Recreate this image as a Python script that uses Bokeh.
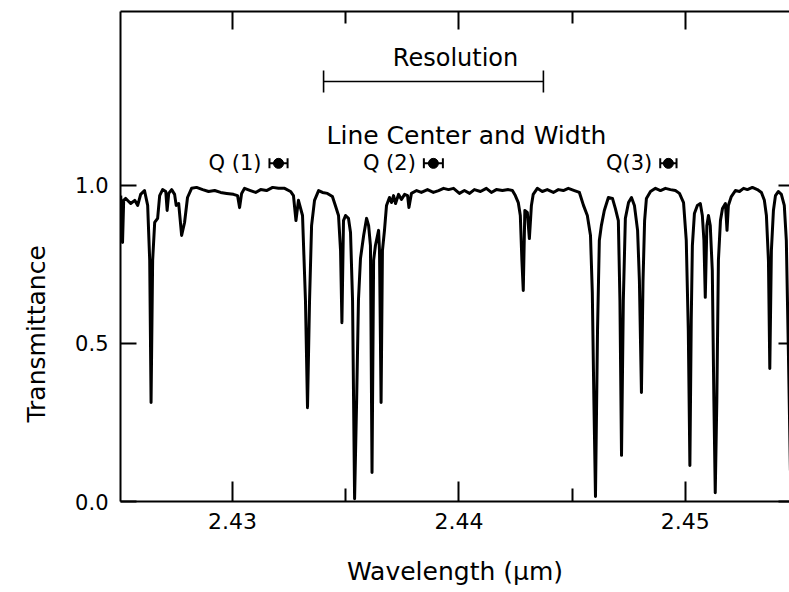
from bokeh.plotting import figure
from bokeh.models import (ColumnDataSource, Whisker, TeeHead, Title, FixedTicker,
                          LinearAxis, Range1d, PrintfTickFormatter)
from bokeh.core.properties import value
from bokeh.embed import file_html
from bokeh.resources import INLINE

# ---------------- data ----------------
wavelength = [
    2.42506, 2.42510, 2.42514, 2.42519, 2.42528, 2.42550, 2.42568, 2.42581, 2.42594, 2.42611,
    2.42625, 2.42634, 2.42640, 2.42647, 2.42656, 2.42669, 2.42678, 2.42691, 2.42705, 2.42711,
    2.42718, 2.42731, 2.42744, 2.42751, 2.42762, 2.42775, 2.42788, 2.42801, 2.42819, 2.42841,
    2.42868, 2.42894, 2.42921, 2.42947, 2.42974, 2.43004, 2.43022, 2.43031, 2.43040, 2.43053,
    2.43079, 2.43102, 2.43124, 2.43150, 2.43177, 2.43203, 2.43230, 2.43256, 2.43269, 2.43280,
    2.43291, 2.43309, 2.43322, 2.43331, 2.43340, 2.43349, 2.43362, 2.43380, 2.43397, 2.43419,
    2.43441, 2.43454, 2.43468, 2.43477, 2.43483, 2.43490, 2.43499, 2.43512, 2.43521, 2.43530,
    2.43539, 2.43548, 2.43556, 2.43565, 2.43579, 2.43592, 2.43601, 2.43609, 2.43616, 2.43623,
    2.43631, 2.43645, 2.43649, 2.43656, 2.43662, 2.43671, 2.43680, 2.43693, 2.43702, 2.43711,
    2.43720, 2.43733, 2.43746, 2.43760, 2.43773, 2.43779, 2.43790, 2.43813, 2.43834, 2.43861,
    2.43887, 2.43910, 2.43932, 2.43954, 2.43976, 2.44002, 2.44024, 2.44047, 2.44068, 2.44095,
    2.44121, 2.44143, 2.44165, 2.44192, 2.44218, 2.44236, 2.44249, 2.44262, 2.44271, 2.44278,
    2.44284, 2.44291, 2.44302, 2.44311, 2.44320, 2.44328, 2.44346, 2.44368, 2.44390, 2.44417,
    2.44439, 2.44461, 2.44483, 2.44510, 2.44532, 2.44550, 2.44567, 2.44581, 2.44589, 2.44596,
    2.44603, 2.44612, 2.44620, 2.44629, 2.44642, 2.44660, 2.44678, 2.44691, 2.44704, 2.44711,
    2.44718, 2.44726, 2.44735, 2.44749, 2.44762, 2.44775, 2.44789, 2.44797, 2.44806, 2.44813,
    2.44820, 2.44828, 2.44846, 2.44868, 2.44890, 2.44912, 2.44934, 2.44956, 2.44974, 2.44992,
    2.45004, 2.45013, 2.45020, 2.45026, 2.45031, 2.45040, 2.45053, 2.45066, 2.45075, 2.45082,
    2.45088, 2.45095, 2.45102, 2.45110, 2.45119, 2.45126, 2.45132, 2.45139, 2.45146, 2.45155,
    2.45164, 2.45177, 2.45184, 2.45190, 2.45203, 2.45221, 2.45239, 2.45257, 2.45274, 2.45296,
    2.45318, 2.45336, 2.45349, 2.45358, 2.45367, 2.45373, 2.45380, 2.45389, 2.45398, 2.45411,
    2.45424, 2.45437, 2.45446, 2.45455, 2.45464,
]
transmittance = [
    0.968, 0.905, 0.820, 0.953, 0.959, 0.943, 0.953, 0.937, 0.972, 0.984,
    0.937, 0.763, 0.313, 0.763, 0.883, 0.896, 0.968, 0.987, 0.981, 0.921,
    0.975, 0.987, 0.972, 0.937, 0.943, 0.842, 0.883, 0.962, 0.991, 0.994,
    0.987, 0.981, 0.984, 0.978, 0.975, 0.972, 0.968, 0.930, 0.975, 0.991,
    0.984, 0.978, 0.987, 0.984, 0.994, 0.991, 0.991, 0.981, 0.968, 0.889,
    0.953, 0.905, 0.636, 0.297, 0.636, 0.873, 0.953, 0.984, 0.978, 0.975,
    0.965, 0.937, 0.905, 0.794, 0.566, 0.889, 0.905, 0.896, 0.851, 0.636,
    0.009, 0.320, 0.636, 0.769, 0.842, 0.896, 0.873, 0.810, 0.092, 0.763,
    0.810, 0.858, 0.794, 0.313, 0.794, 0.858, 0.937, 0.962, 0.946, 0.968,
    0.943, 0.972, 0.956, 0.972, 0.968, 0.930, 0.975, 0.984, 0.978, 0.987,
    0.978, 0.984, 0.991, 0.987, 0.991, 0.975, 0.984, 0.975, 0.987, 0.981,
    0.991, 0.978, 0.987, 0.984, 0.987, 0.984, 0.968, 0.946, 0.905, 0.763,
    0.668, 0.921, 0.915, 0.832, 0.937, 0.972, 0.991, 0.981, 0.987, 0.978,
    0.987, 0.984, 0.991, 0.984, 0.978, 0.937, 0.905, 0.842, 0.661, 0.320,
    0.016, 0.541, 0.826, 0.873, 0.921, 0.962, 0.959, 0.927, 0.889, 0.636,
    0.146, 0.636, 0.896, 0.946, 0.962, 0.937, 0.858, 0.699, 0.345, 0.699,
    0.889, 0.959, 0.981, 0.991, 0.984, 0.991, 0.987, 0.984, 0.975, 0.946,
    0.826, 0.541, 0.114, 0.573, 0.810, 0.911, 0.937, 0.943, 0.905, 0.826,
    0.646, 0.873, 0.905, 0.873, 0.731, 0.320, 0.028, 0.320, 0.763, 0.889,
    0.927, 0.943, 0.858, 0.937, 0.965, 0.984, 0.981, 0.991, 0.987, 0.994,
    0.987, 0.978, 0.953, 0.905, 0.763, 0.421, 0.794, 0.921, 0.968, 0.981,
    0.972, 0.937, 0.826, 0.478, 0.098,
]

q_labels = ["Q (1)", "Q (2)", "Q(3)"]
q_center = [2.43203, 2.43887, 2.44925]
q_halfwidth = [0.00040, 0.00042, 0.00036]
q_level = [1.070, 1.070, 1.070]

resolution_start = [2.43402]
resolution_end = [2.44373]
resolution_level = [1.329]

x_ticks = [2.43, 2.44, 2.45]
x_minor_ticks = [2.425, 2.435, 2.445, 2.455]
y_ticks = [0.0, 0.5, 1.0]

FONT = "DejaVu Sans"

# ---------------- figure ----------------
p = figure(width=789, height=592, output_backend="svg", toolbar_location=None,
           x_range=Range1d(2.42505, 2.4546), y_range=Range1d(0, 1.5506),
           min_border_left=120, min_border_right=0, min_border_top=11,
           min_border_bottom=91)
p.outline_line_color = None
p.xgrid.visible = False
p.ygrid.visible = False
p.background_fill_color = "white"
p.border_fill_color = "white"

# bottom axis
xa = p.xaxis[0]
xa.ticker = FixedTicker(ticks=x_ticks, minor_ticks=x_minor_ticks)
xa.major_tick_in = 20
xa.major_tick_out = 0
xa.minor_tick_in = 13
xa.minor_tick_out = 0
xa.axis_line_width = 2
xa.major_tick_line_width = 2
xa.minor_tick_line_width = 2
xa.major_label_text_font = FONT
xa.major_label_text_font_size = "22px"
xa.major_label_text_color = "black"
xa.major_label_standoff = 11
xa.axis_label = "Wavelength (μm)"
xa.axis_label_text_font = FONT
xa.axis_label_text_font_size = "25px"
xa.axis_label_text_font_style = "normal"
xa.axis_label_text_color = "black"
xa.axis_label_standoff = 25

# left axis
ya = p.yaxis[0]
ya.ticker = FixedTicker(ticks=y_ticks, minor_ticks=[])
ya.formatter = PrintfTickFormatter(format="%.1f")
ya.major_tick_in = 16
ya.major_tick_out = 0
ya.minor_tick_line_color = None
ya.axis_line_width = 2
ya.major_tick_line_width = 2
ya.major_label_text_font = FONT
ya.major_label_text_font_size = "21px"
ya.major_label_text_color = "black"
ya.major_label_standoff = 12

# top axis (ticks only)
top = LinearAxis(ticker=FixedTicker(ticks=x_ticks, minor_ticks=x_minor_ticks),
                 major_tick_in=18, major_tick_out=0, minor_tick_in=12, minor_tick_out=0,
                 axis_line_width=2, major_tick_line_width=2, minor_tick_line_width=2,
                 major_label_text_font_size="0px", major_label_text_color=None,
                 major_label_standoff=0)
p.add_layout(top, "above")

# right axis (ticks only)
right = LinearAxis(ticker=FixedTicker(ticks=y_ticks, minor_ticks=[]),
                   major_tick_in=11, major_tick_out=0, minor_tick_line_color=None,
                   axis_line_color=None, major_tick_line_width=2,
                   major_label_text_font_size="0px", major_label_text_color=None,
                   major_label_standoff=0)
p.add_layout(right, "right")

# y axis title, placed along the left side
p.add_layout(Title(text="Transmittance", align="left", offset=79, standoff=40,
                   vertical_align="top",
                   text_font=FONT, text_font_size="25px", text_font_style="normal",
                   text_color="black"), "left")

# spectrum
p.line(wavelength, transmittance, line_color="black", line_width=3,
       line_join="round")

# resolution bar
res_src = ColumnDataSource(dict(lo=resolution_start, hi=resolution_end, y=resolution_level))
p.add_layout(Whisker(source=res_src, base="y", lower="lo", upper="hi", dimension="width",
                     line_width=1.6, line_color="black",
                     lower_head=TeeHead(size=22, line_width=1.6, line_color="black"),
                     upper_head=TeeHead(size=22, line_width=1.6, line_color="black")))
p.text(x=[2.43985], y=[1.405], text=["Resolution"],
       text_font=value(FONT), text_font_size="24px", text_align="center",
       text_baseline="middle", text_color="black")
p.text(x=[2.44033], y=[1.158], text=["Line Center and Width"],
       text_font=value(FONT), text_font_size="25px", text_align="center",
       text_baseline="middle", text_color="black")

# Q lines: center and width markers
q_src = ColumnDataSource(dict(
    x=q_center, y=q_level, label=q_labels,
    lo=[c - w for c, w in zip(q_center, q_halfwidth)],
    hi=[c + w for c, w in zip(q_center, q_halfwidth)]))
p.add_layout(Whisker(source=q_src, base="y", lower="lo", upper="hi", dimension="width",
                     line_width=2, line_color="black",
                     lower_head=TeeHead(size=10, line_width=2, line_color="black"),
                     upper_head=TeeHead(size=10, line_width=2, line_color="black")))
p.scatter("x", "y", source=q_src, size=10, color="black")
p.text(x="lo", y="y", text="label", source=q_src, x_offset=-8,
       text_font=value(FONT), text_font_size="21px", text_align="right",
       text_baseline="middle", text_color="black")

open("out.html", "w").write(file_html(p, INLINE))
